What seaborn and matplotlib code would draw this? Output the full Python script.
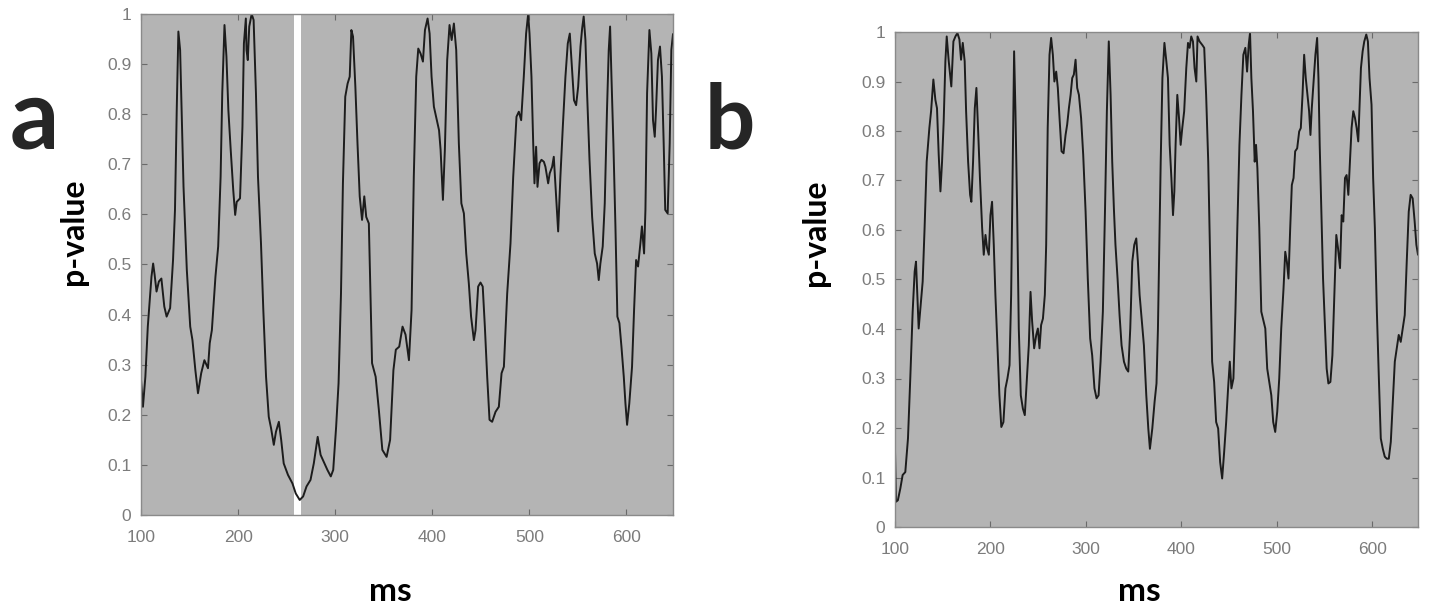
import matplotlib
matplotlib.use("Agg")
import matplotlib.pyplot as plt
import seaborn as sns
import numpy as np
from matplotlib.ticker import FuncFormatter, MultipleLocator

# panel a: p-value trace (ms, p)
ms_a = [100, 102, 104.5, 107, 110.8, 112.5, 114, 116, 118.4, 121,
        124, 126.4, 130, 133, 135, 136.8, 138.5, 140.3, 143.8, 147.2,
        150.7, 153, 156, 158.7, 162, 165.3, 169, 170.8, 173, 176.7,
        179.5, 182, 183.7, 186, 188, 190, 192.4, 195, 197, 198.6,
        202, 204.5, 206, 208, 208.7, 210, 211.5, 214, 216, 218.4,
        220.5, 223.6, 226, 228.8, 231.6, 234, 236.8, 239, 242, 244.4,
        247, 251.4, 256, 259.4, 263.5, 267, 270.5, 274.6, 278, 282,
        285, 289, 292, 295.5, 298, 301, 303.5, 306, 308, 310.4,
        312.8, 315, 316.7, 318.4, 320.8, 323, 325.3, 327.7, 330, 332,
        334.7, 338, 341.7, 345, 348.6, 353, 356.6, 360, 362.5, 366,
        369.4, 372.5, 376, 378.7, 381, 383.5, 385.6, 388, 390.4, 392.5,
        395.2, 397.3, 399.3, 401.7, 404, 407, 408.6, 411, 413, 415.4,
        417.8, 420, 422.3, 424.7, 427.4, 430, 432.6, 435, 437.7, 440,
        442.9, 444.6, 447.3, 449.7, 452, 454.2, 456.6, 459, 461.7, 465.2,
        468.6, 471.4, 473.8, 477.2, 480.6, 483.4, 486.8, 489.2, 491.6, 494.3,
        496.7, 498.8, 500.2, 502.2, 504, 505.3, 507, 508.4, 510.5, 512.5,
        515, 516.6, 519.4, 521, 523.5, 525.2, 527, 529.7, 532, 534.5,
        537.2, 539.6, 541.7, 544, 546, 548.2, 550.3, 552.7, 554.4, 556,
        557.8, 559.5, 562, 564.7, 567.4, 569.8, 571.5, 573.2, 575.6, 577.7,
        580, 581.8, 583.2, 584.6, 586.6, 588.7, 590.7, 592.8, 594.9, 597.3,
        599, 600.7, 603, 605.8, 607.9, 610, 612, 614.4, 616, 618.2,
        619.6, 621.3, 623.7, 625.7, 627.4, 629.2, 630.5, 632.5, 634.6, 636.6,
        638.4, 640, 642.5, 644.6, 646.3, 648]
p_a = [0.27, 0.216, 0.276, 0.376, 0.476, 0.502, 0.48, 0.446, 0.466, 0.472,
       0.416, 0.396, 0.413, 0.509, 0.609, 0.808, 0.965, 0.928, 0.655, 0.489,
       0.376, 0.349, 0.289, 0.243, 0.283, 0.309, 0.293, 0.343, 0.369, 0.476,
       0.536, 0.675, 0.842, 0.978, 0.915, 0.808, 0.729, 0.649, 0.599, 0.625,
       0.632, 0.775, 0.941, 0.991, 0.928, 0.908, 0.975, 1.0, 0.988, 0.842,
       0.675, 0.542, 0.409, 0.276, 0.196, 0.173, 0.14, 0.166, 0.186, 0.15,
       0.103, 0.08, 0.063, 0.043, 0.03, 0.037, 0.057, 0.07, 0.103, 0.156,
       0.12, 0.103, 0.09, 0.077, 0.09, 0.176, 0.263, 0.442, 0.662, 0.835,
       0.861, 0.875, 0.968, 0.955, 0.855, 0.742, 0.636, 0.589, 0.636, 0.595,
       0.582, 0.303, 0.276, 0.21, 0.13, 0.116, 0.15, 0.289, 0.33, 0.336,
       0.376, 0.36, 0.309, 0.409, 0.675, 0.875, 0.931, 0.921, 0.905, 0.968,
       0.991, 0.961, 0.875, 0.815, 0.795, 0.768, 0.729, 0.629, 0.729, 0.908,
       0.978, 0.948, 0.981, 0.928, 0.742, 0.622, 0.602, 0.522, 0.462, 0.396,
       0.349, 0.369, 0.456, 0.464, 0.456, 0.376, 0.276, 0.19, 0.186, 0.206,
       0.216, 0.283, 0.296, 0.442, 0.542, 0.675, 0.795, 0.805, 0.788, 0.875,
       0.961, 1.0, 0.961, 0.875, 0.742, 0.662, 0.735, 0.655, 0.702, 0.709,
       0.705, 0.695, 0.662, 0.682, 0.695, 0.715, 0.655, 0.566, 0.675, 0.775,
       0.875, 0.941, 0.961, 0.888, 0.828, 0.818, 0.855, 0.935, 0.971, 0.995,
       0.948, 0.842, 0.709, 0.595, 0.522, 0.502, 0.469, 0.502, 0.536, 0.622,
       0.808, 0.928, 0.975, 0.875, 0.742, 0.576, 0.396, 0.383, 0.336, 0.276,
       0.223, 0.18, 0.223, 0.296, 0.409, 0.509, 0.496, 0.542, 0.576, 0.522,
       0.609, 0.842, 0.968, 0.921, 0.788, 0.755, 0.808, 0.908, 0.935, 0.875,
       0.742, 0.609, 0.602, 0.742, 0.928, 0.96]

# white marker band in panel a (ms)
band_a = (258, 265)

# panel b: p-value trace (ms, p)
ms_b = [100, 101, 103, 105.6, 108, 110.8, 113.6, 116, 118.5, 120.6,
        122, 123.4, 124.8, 126.6, 129, 131, 133.2, 136, 137.8, 140.2,
        142.3, 144, 145.8, 147.6, 149.3, 151, 152.8, 154.2, 156.3, 159,
        161.2, 163.3, 165.4, 167.5, 169.2, 171, 173, 174.5, 176.6, 178.7,
        180, 181.8, 183.6, 185.3, 187, 189, 191.3, 193, 194.8, 196.5,
        198.3, 200, 201.7, 203.5, 205.2, 207.3, 209.4, 211.4, 213.6, 215.7,
        217.8, 220, 221.7, 223.4, 224.8, 226.2, 228, 229.7, 231.8, 234,
        236, 238, 240.2, 242, 243.7, 245.8, 248, 249.7, 251.4, 253.1,
        255, 257, 258.4, 260, 261.9, 263.6, 265.4, 267, 268.9, 270.6,
        272.4, 274.5, 276.6, 278.7, 280.4, 282.2, 284, 285.7, 287.4, 289.2,
        290.9, 292.7, 295, 297.2, 299.7, 302, 304.5, 306.6, 309, 311.2,
        313.3, 315.4, 317.8, 320, 322, 324, 325.9, 327.6, 329.4, 331,
        333.2, 335.3, 337.4, 339.9, 342.3, 344.4, 346.5, 348.6, 350.7, 352.8,
        354.5, 356.3, 358.4, 360.8, 363.3, 365.4, 367.1, 369.6, 372, 374,
        375.5, 376.7, 378.4, 380.2, 382.3, 384.3, 386, 387.8, 389.6, 391.3,
        392.7, 394, 395.8, 397.6, 399.3, 401, 403, 405.2, 407, 408.7,
        410.4, 412.2, 413.9, 415.7, 417, 419.1, 421.9, 424, 426, 428.2,
        430.3, 432.3, 434.4, 436.5, 438.6, 440.7, 442.8, 444.9, 447, 449,
        450.8, 452.5, 454.6, 456.7, 458.7, 460.9, 463, 465, 467.1, 468.9,
        470.6, 472, 473.4, 475.1, 476.9, 478.3, 479.7, 481.7, 483.8, 486.3,
        488, 490, 492.2, 494.3, 496.3, 498.4, 500.5, 502.6, 504.7, 507.1,
        508.9, 510.6, 512.3, 514.1, 515.8, 517.6, 519.3, 521.4, 523.5, 525.2,
        527, 528.7, 530.4, 532.2, 533.9, 535.3, 536.7, 538.8, 540.5, 542.3,
        543.7, 545, 546.8, 548.5, 550.6, 552.3, 554.1, 556.2, 558.3, 560.3,
        562.4, 564.2, 566.3, 568, 569.7, 571.5, 573.2, 575, 576.7, 578.4,
        580.2, 582, 583.7, 585.4, 586.8, 588.2, 590, 591.7, 593.8, 595.5,
        597.2, 599.3, 601, 602.8, 604.9, 607, 609, 611.1, 613.2, 615.3,
        617.4, 619.5, 621.6, 623.7, 625.7, 627.8, 629.9, 632, 634.1, 636.2,
        638.3, 640.3, 642.4, 644.5, 646.3, 648]
p_b = [0.155, 0.051, 0.054, 0.078, 0.105, 0.111, 0.179, 0.3, 0.435, 0.516,
       0.536, 0.469, 0.401, 0.442, 0.496, 0.604, 0.738, 0.806, 0.84, 0.904,
       0.863, 0.846, 0.752, 0.678, 0.738, 0.819, 0.941, 0.991, 0.941, 0.89,
       0.981, 0.991, 0.998, 0.985, 0.944, 0.978, 0.941, 0.84, 0.738, 0.671,
       0.657, 0.738, 0.846, 0.887, 0.806, 0.705, 0.604, 0.55, 0.59, 0.563,
       0.55, 0.63, 0.657, 0.57, 0.469, 0.367, 0.266, 0.202, 0.212, 0.28,
       0.3, 0.327, 0.469, 0.738, 0.961, 0.84, 0.637, 0.401, 0.266, 0.239,
       0.226, 0.293, 0.367, 0.475, 0.415, 0.361, 0.388, 0.401, 0.361, 0.408,
       0.421, 0.469, 0.57, 0.806, 0.954, 0.988, 0.954, 0.9, 0.92, 0.887,
       0.826, 0.759, 0.755, 0.792, 0.813, 0.846, 0.873, 0.907, 0.914, 0.944,
       0.887, 0.873, 0.826, 0.752, 0.637, 0.502, 0.381, 0.347, 0.28, 0.26,
       0.266, 0.334, 0.435, 0.637, 0.84, 0.981, 0.873, 0.738, 0.641, 0.57,
       0.502, 0.428, 0.367, 0.334, 0.32, 0.314, 0.401, 0.536, 0.57, 0.583,
       0.536, 0.469, 0.421, 0.367, 0.266, 0.199, 0.158, 0.199, 0.253, 0.29,
       0.4, 0.536, 0.738, 0.907, 0.978, 0.941, 0.907, 0.772, 0.705, 0.63,
       0.678, 0.772, 0.873, 0.826, 0.772, 0.806, 0.84, 0.927, 0.978, 0.968,
       0.991, 0.981, 0.927, 0.9, 0.991, 0.981, 0.974, 0.968, 0.873, 0.738,
       0.536, 0.334, 0.293, 0.212, 0.199, 0.131, 0.098, 0.152, 0.212, 0.28,
       0.334, 0.28, 0.3, 0.435, 0.604, 0.772, 0.873, 0.954, 0.968, 0.92,
       0.974, 0.998, 0.907, 0.84, 0.738, 0.772, 0.725, 0.604, 0.435, 0.415,
       0.401, 0.32, 0.293, 0.266, 0.212, 0.192, 0.233, 0.3, 0.401, 0.482,
       0.556, 0.536, 0.502, 0.604, 0.691, 0.705, 0.759, 0.765, 0.799, 0.806,
       0.873, 0.954, 0.907, 0.873, 0.84, 0.792, 0.846, 0.907, 0.954, 0.988,
       0.907, 0.772, 0.637, 0.502, 0.401, 0.32, 0.29, 0.293, 0.347, 0.469,
       0.59, 0.563, 0.523, 0.63, 0.617, 0.705, 0.711, 0.671, 0.738, 0.806,
       0.84, 0.826, 0.806, 0.779, 0.853, 0.927, 0.961, 0.981, 0.995, 0.981,
       0.907, 0.853, 0.705, 0.604, 0.435, 0.3, 0.179, 0.158, 0.142, 0.138,
       0.138, 0.172, 0.253, 0.334, 0.361, 0.388, 0.374, 0.401, 0.428, 0.536,
       0.637, 0.671, 0.664, 0.617, 0.57, 0.55]

x_ticks = [100, 200, 300, 400, 500, 600]
panel_names = ['a', 'b']

sns.set_theme(style="ticks")
plt.rcParams['font.family'] = ['Lato', 'DejaVu Sans']

BG = '#b4b4b4'
TICK_GREY = '#7c7c7c'
LABEL_FONT = ['Lato', 'DejaVu Sans']

W, H = 1429, 607
fig = plt.figure(figsize=(W / 100, H / 100), dpi=100)
fig.patch.set_facecolor('white')


def px_rect(left, top, right, bottom):
    # figure-pixel box -> axes rect in figure fractions
    return [left / W, (H - bottom) / H, (right - left) / W, (bottom - top) / H]


ax_a = fig.add_axes(px_rect(141, 14, 673, 515))
ax_b = fig.add_axes(px_rect(895, 32, 1418, 527))

# (axes, x, y, ylabel right-edge/centre, xlabel centre) in axes coords
panels = [
    (ax_a, ms_a, p_a, (-0.10, 0.565), (0.468, -0.152)),
    (ax_b, ms_b, p_b, (-0.125, 0.594), (0.468, -0.131)),
]

for ax, xs, ys, ylab_pos, xlab_pos in panels:
    ax.set_facecolor(BG)
    sns.lineplot(x=xs, y=ys, ax=ax, color='#1c1c1c', linewidth=1.4,
                 estimator=None, sort=False)
    ax.set_xlim(100, 648)
    ax.set_ylim(0, 1)
    ax.set_xticks(x_ticks)
    ax.yaxis.set_major_locator(MultipleLocator(0.1))
    ax.yaxis.set_major_formatter(FuncFormatter(lambda v, _: f"{v:.1f}".rstrip('0').rstrip('.') if v else "0"))
    ax.tick_params(direction='in', top=True, right=True, length=4, width=0.8,
                   color='#6a6a6a', labelcolor=TICK_GREY, labelsize=12.5)
    ax.tick_params(axis='x', pad=11)
    ax.tick_params(axis='y', pad=7)
    for lab in ax.get_xticklabels() + ax.get_yticklabels():
        lab.set_family(['Liberation Sans', 'DejaVu Sans'])
    for sp in ax.spines.values():
        sp.set_visible(True)
        sp.set_color('#8a8a8a')
        sp.set_linewidth(1.0)
    ax.set_ylabel('p-value', fontsize=23, fontweight='bold', color='black',
                  family=LABEL_FONT)
    ax.yaxis.set_label_coords(*ylab_pos)
    ax.set_xlabel('ms', fontsize=24, fontweight='bold', color='black',
                  family=LABEL_FONT, va='center')
    ax.xaxis.set_label_coords(*xlab_pos)

ax_a.axvspan(*band_a, color='white', lw=0, zorder=1.5)

# panel letters
fig.text(10 / W, (H - 148) / H, panel_names[0], fontsize=70, fontweight='bold',
         family=LABEL_FONT, ha='left', va='baseline')
fig.text(705 / W, (H - 148) / H, panel_names[1], fontsize=64, fontweight='bold',
         family=LABEL_FONT, ha='left', va='baseline')

fig.savefig('out.png', dpi=100)
